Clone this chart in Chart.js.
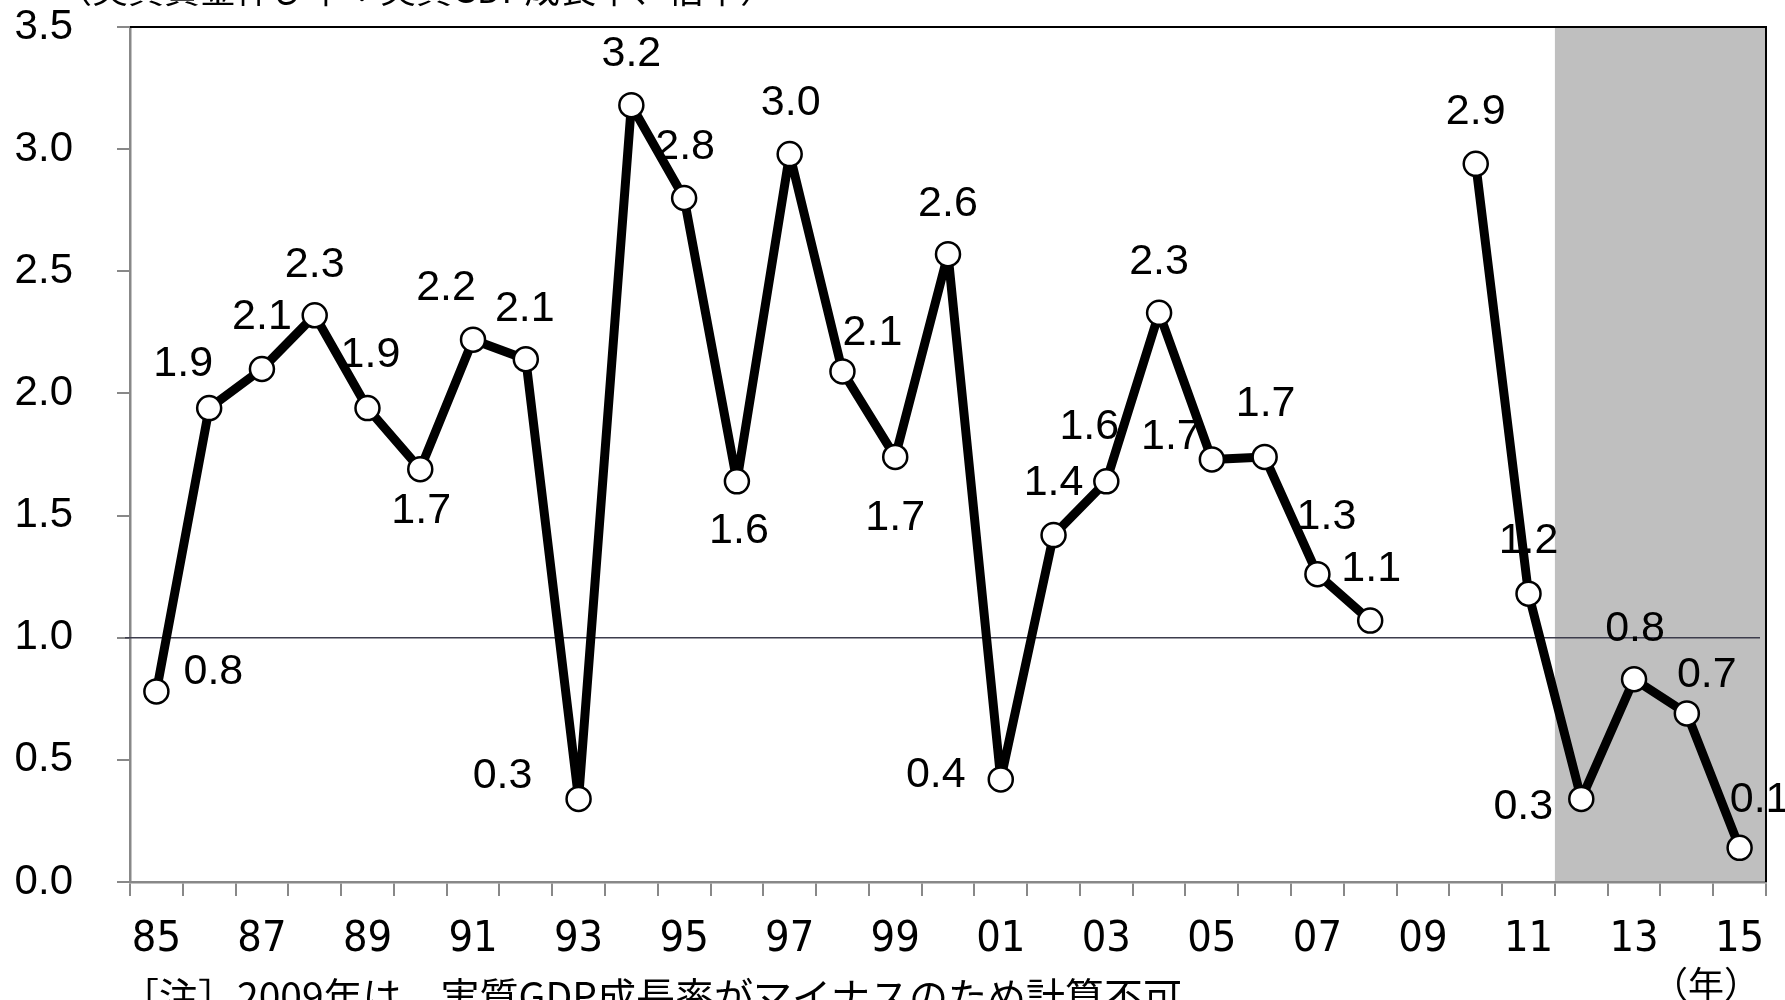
<!DOCTYPE html>
<html>
<head>
<meta charset="utf-8">
<script src="https://cdn.jsdelivr.net/npm/chart.js@4.4.1/dist/chart.umd.min.js"></script>
<style>
  html, body { margin: 0; padding: 0; background: #fff; overflow: hidden; }
  canvas { display: block; }
</style>
</head>
<body>
<canvas id="c" width="1785" height="1000"></canvas>
<script>
// Years 1985–2015, shown as two-digit labels
const years = ['85','86','87','88','89','90','91','92','93','94','95','96','97','98','99',
               '00','01','02','03','04','05','06','07','08','09','10','11','12','13','14','15'];

// Elasticity per year (2009 cannot be computed: real GDP growth was negative)
const elasticity = [0.78, 1.94, 2.10, 2.32, 1.94, 1.69, 2.22, 2.14, 0.34, 3.18,
                    2.80, 1.64, 2.98, 2.09, 1.74, 2.57, 0.42, 1.42, 1.64, 2.33,
                    1.73, 1.74, 1.26, 1.07, null, 2.94, 1.18, 0.34, 0.83, 0.69, 0.14];

// Value axis ticks
const yMin = 0, yMax = 3.5, yStep = 0.5;

// Reference level and the shaded period (2012 onward)
const referenceLevel = 1.0;
const shadedFrom = '12';

// Texts
const headText = '（実質賃金伸び率÷実質GDP成長率、倍率）';
const noteText = '［注］2009年は、実質GDP成長率がマイナスのため計算不可';
const unitText = '（年）';

// Where each value label sits relative to its point [dx, dy]
const labelOffsets = [
  [57,-23], [-26,-47], [0,-55], [0,-54], [3,-56], [1,38], [-27,-55], [-1,-54], [-76,-26], [0,-55],
  [1,-54], [2,46], [1,-54], [30,-42], [0,58], [0,-54], [-65,-8], [0,-56], [-17,-58], [0,-54],
  [-41,-26], [1,-56], [9,-61], [1,-55], null, [0,-55], [0,-56], [-58,5], [1,-54], [20,-42], [20,-51]
];

const SANS = '"Liberation Sans", Arial, sans-serif';
const NARROW = '"Liberation Sans Narrow", "Arial Narrow", "DejaVu Sans Condensed", sans-serif';
const JP = '"Noto Sans CJK JP", sans-serif';

const decor = {
  id: 'decor',
  beforeDraw(chart) {
    // grey band over the shaded years
    const { ctx, chartArea: a, scales: { x } } = chart;
    const i = years.indexOf(shadedFrom);
    const half = (x.getPixelForValue(1) - x.getPixelForValue(0)) / 2;
    const left = x.getPixelForValue(i) - half;
    ctx.save();
    ctx.fillStyle = '#bfbfbf';
    ctx.fillRect(left, a.top, a.right - left, a.bottom - a.top);
    ctx.restore();
  },
  beforeDatasetsDraw(chart) {
    const { ctx, chartArea: a, scales: { y } } = chart;
    ctx.save();
    // reference line at 1.0
    const ry = y.getPixelForValue(referenceLevel);
    ctx.strokeStyle = '#3c3c4c';
    ctx.lineWidth = 1.5;
    ctx.beginPath();
    ctx.moveTo(a.left - 5, ry);
    ctx.lineTo(a.right - 6, ry);
    ctx.stroke();
    // top and right frame
    ctx.strokeStyle = '#000';
    ctx.lineWidth = 2;
    ctx.beginPath();
    ctx.moveTo(a.left, a.top);
    ctx.lineTo(a.right, a.top);
    ctx.lineTo(a.right, a.bottom);
    ctx.stroke();
    ctx.restore();
  },
  afterDatasetsDraw(chart) {
    // value labels
    const { ctx } = chart;
    const meta = chart.getDatasetMeta(0);
    const size = 43;
    ctx.save();
    ctx.font = size + 'px ' + SANS;
    ctx.fillStyle = '#000';
    ctx.textAlign = 'center';
    ctx.textBaseline = 'alphabetic';
    meta.data.forEach((pt, i) => {
      const v = elasticity[i];
      const off = labelOffsets[i];
      if (v === null || !off) return;
      ctx.fillText(v.toFixed(1), pt.x + off[0], pt.y + off[1] + size * 0.358);
    });
    ctx.restore();
  },
  afterDraw(chart) {
    const { ctx, chartArea: a } = chart;
    ctx.save();
    ctx.fillStyle = '#000';
    ctx.textBaseline = 'alphabetic';
    ctx.textAlign = 'left';
    ctx.font = '36px ' + JP;
    ctx.fillText(headText, 56, 3);
    ctx.font = '39px ' + JP;
    ctx.fillText(noteText, 120, 1011);
    ctx.font = '36px ' + JP;
    ctx.textAlign = 'right';
    ctx.fillText(unitText, a.right - 6, 998);
    ctx.restore();
  }
};

new Chart(document.getElementById('c'), {
  type: 'line',
  data: {
    labels: years,
    datasets: [{
      data: elasticity,
      borderColor: '#000',
      borderWidth: 9,
      borderJoinStyle: 'round',
      pointRadius: 12,
      pointBorderWidth: 2.5,
      pointBackgroundColor: '#fff',
      pointBorderColor: '#000',
      spanGaps: false,
      tension: 0,
      clip: false
    }]
  },
  options: {
    responsive: false,
    animation: false,
    devicePixelRatio: 1,
    layout: { padding: { top: 27, right: 19, left: 0, bottom: 0 } },
    plugins: { legend: { display: false }, tooltip: { enabled: false }, title: { display: false } },
    scales: {
      x: {
        offset: true,
        grid: { offset: true, drawOnChartArea: false, drawTicks: true, tickLength: 14, color: '#888', lineWidth: 2 },
        border: { display: true, color: '#888', width: 2.5 },
        ticks: {
          autoSkip: false, maxRotation: 0, minRotation: 0, padding: 18, color: '#000',
          font: { family: NARROW, size: 43 },
          callback: (v, i) => (i % 2 === 0 ? years[i] : '')
        },
        afterFit: s => { s.height = 118; s.paddingLeft = 0; s.paddingRight = 0; }
      },
      y: {
        min: yMin, max: yMax,
        grid: { drawOnChartArea: false, drawTicks: true, tickLength: 13, color: '#888', lineWidth: 2 },
        border: { display: true, color: '#888', width: 2.5 },
        ticks: {
          stepSize: yStep, padding: 44, color: '#000',
          font: { family: SANS, size: 42 },
          callback: v => Number(v).toFixed(1)
        },
        afterFit: s => { s.width = 130; s.paddingTop = 0; s.paddingBottom = 0; }
      }
    }
  },
  plugins: [decor]
});
</script>
</body>
</html>
